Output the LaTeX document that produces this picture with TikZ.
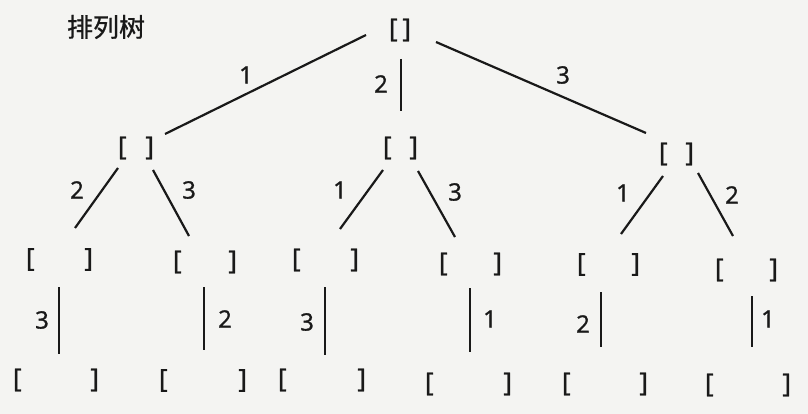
\documentclass[tikz,border=0pt]{standalone}
\usepackage{fontspec}
\setmainfont{Open Sans}[FakeBold=1.2]
\newfontfamily\cjk{Noto Sans CJK SC}[FakeBold=0.8]
\usetikzlibrary{calc}
\definecolor{paper}{RGB}{244,244,242}
\definecolor{ink}{RGB}{25,25,25}
\newcommand{\brk}[1]{\makebox[#1pt]{[\hfill]}}
\begin{document}
\begin{tikzpicture}[x=1pt,y=-1pt,
  edge/.style={draw=ink, line width=2.2pt},
  brnode/.style={inner sep=0pt, text=ink, font=\fontsize{26}{26}\selectfont},
  lab/.style={inner sep=0pt, text=ink, font=\fontsize{24}{24}\selectfont}]
\fill[paper] (0,0) rectangle (808,414);
\useasboundingbox (0,0) rectangle (808,414);

\node[inner sep=0pt, text=ink, font=\cjk\fontsize{26}{26}\selectfont] (title) at (106,27) {排列树};

% level 0
\node[brnode] (r) at (400,30) {\brk{22}};
% level 1
\node[brnode] (a) at (136,148) {\brk{36}};
\node[brnode] (b) at (400.5,148) {\brk{35}};
\node[brnode] (c) at (676.5,154) {\brk{35}};
% level 2
\node[brnode] (n1) at (59.5,259.5) {\brk{67}};
\node[brnode] (n2) at (205,262) {\brk{64}};
\node[brnode] (n3) at (325.5,260) {\brk{67}};
\node[brnode] (n4) at (470.5,264) {\brk{63}};
\node[brnode] (n5) at (608.5,264.5) {\brk{63}};
\node[brnode] (n6) at (746.5,270) {\brk{63}};
% level 3
\node[brnode] (m1) at (56,380) {\brk{86}};
\node[brnode] (m2) at (203,380.5) {\brk{88}};
\node[brnode] (m3) at (322,380) {\brk{88}};
\node[brnode] (m4) at (468.5,384) {\brk{87}};
\node[brnode] (m5) at (605,384) {\brk{86}};
\node[brnode] (m6) at (748,385) {\brk{86}};

% edges level 0 -> 1
\draw[edge] ($(r)+(-34,5)$) -- ($(a)+(29,-14)$);
\draw[edge] ($(r)+(1,29)$) -- ($(b)+(0.5,-37)$);
\draw[edge] ($(r)+(36,12)$) -- ($(c)+(-30.5,-21)$);
\node[lab] (l1) at (246,75) {1};
\node[lab] (l2) at (381,84) {2};
\node[lab] (l3) at (563,75) {3};

% edges level 1 -> 2
\draw[edge] ($(a)+(-18,20)$) -- ($(n1)+(15.5,-31.5)$);
\draw[edge] ($(a)+(17,22)$) -- ($(n2)+(-16,-26)$);
\draw[edge] ($(b)+(-17.5,22)$) -- ($(n3)+(14.5,-31)$);
\draw[edge] ($(b)+(17.5,23)$) -- ($(n4)+(-15.5,-27)$);
\draw[edge] ($(c)+(-13.5,22)$) -- ($(n5)+(12.5,-30.5)$);
\draw[edge] ($(c)+(21.5,19)$) -- ($(n6)+(-13.5,-34)$);
\node[lab] (la2) at (77,190) {2};
\node[lab] (la3) at (189,190) {3};
\node[lab] (lb1) at (340,190) {1};
\node[lab] (lb3) at (455,192) {3};
\node[lab] (lc1) at (623,193) {1};
\node[lab] (lc2) at (732,195) {2};

% edges level 2 -> 3
\draw[edge] ($(n1)+(-0.5,27.5)$) -- ($(m1)+(3,-26)$);
\draw[edge] ($(n2)+(-1,25)$) -- ($(m2)+(1,-30.5)$);
\draw[edge] ($(n3)+(-0.5,27)$) -- ($(m3)+(3,-25)$);
\draw[edge] ($(n4)+(-0.5,24)$) -- ($(m4)+(1.5,-32)$);
\draw[edge] ($(n5)+(-7.5,27.5)$) -- ($(m5)+(-4,-37)$);
\draw[edge] ($(n6)+(5.5,26)$) -- ($(m6)+(4,-38)$);
\node[lab] (k1) at (42,320) {3};
\node[lab] (k2) at (225,319) {2};
\node[lab] (k3) at (307,322) {3};
\node[lab] (k4) at (490,319) {1};
\node[lab] (k5) at (583,324) {2};
\node[lab] (k6) at (768,319) {1};
\end{tikzpicture}
\end{document}
